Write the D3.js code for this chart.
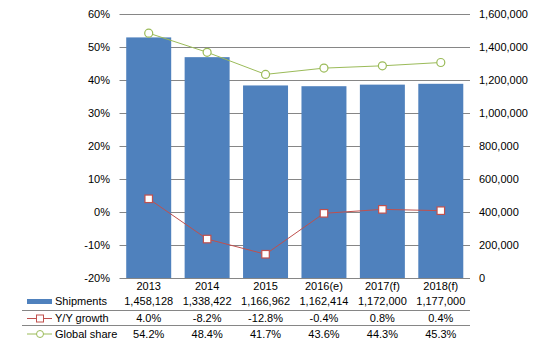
<!DOCTYPE html>
<html lang="en">
<head>
<meta charset="utf-8">
<script src="https://d3js.org/d3.v7.min.js"></script>
<style>
  body { margin: 0; background: #fff; }
  text { font-family: "Liberation Sans", Arial, sans-serif; font-size: 11px; fill: #000; }
</style>
</head>
<body>
<div id="chart"></div>
<script>
const years = ["2013", "2014", "2015", "2016(e)", "2017(f)", "2018(f)"];
const shipments = [1458128, 1338422, 1166962, 1162414, 1172000, 1177000];
const yoy = [4.0, -8.2, -12.8, -0.4, 0.8, 0.4];
const share = [54.2, 48.4, 41.7, 43.6, 44.3, 45.3];
const leftTicks = [-20, -10, 0, 10, 20, 30, 40, 50, 60];
const rightTicks = [0, 200000, 400000, 600000, 800000, 1000000, 1200000, 1400000, 1600000];

const width = 539, height = 350;
const plotLeft = 119.5, plotRight = 470, plotTop = 14, plotBottom = 278;

const svg = d3.select("#chart").append("svg")
    .attr("width", width)
    .attr("height", height);

const x = d3.scaleBand().domain(years).range([plotLeft, plotRight]).paddingInner(0.23).paddingOuter(0.115);
const xc = d => x(d) + x.bandwidth() / 2;
const yl = d3.scaleLinear().domain([-20, 60]).range([plotBottom, plotTop]);
const yr = d3.scaleLinear().domain([0, 1600000]).range([plotBottom, plotTop]);

// grid lines
svg.append("g").selectAll("line")
    .data(leftTicks)
    .enter().append("line")
    .attr("x1", plotLeft).attr("x2", plotRight)
    .attr("y1", d => yl(d) + 0.5).attr("y2", d => yl(d) + 0.5)
    .attr("stroke", "#868686");

// left axis labels
svg.append("g").selectAll("text")
    .data(leftTicks)
    .enter().append("text")
    .attr("x", 110).attr("y", d => yl(d))
    .attr("dy", "0.35em")
    .attr("text-anchor", "end")
    .text(d => d + "%");

// right axis labels
svg.append("g").selectAll("text")
    .data(rightTicks)
    .enter().append("text")
    .attr("x", 479).attr("y", d => yr(d))
    .attr("dy", "0.35em")
    .text(d => d3.format(",")(d));

// bars
svg.append("g").selectAll("rect")
    .data(shipments)
    .enter().append("rect")
    .attr("x", (d, i) => x(years[i]))
    .attr("y", d => yr(d))
    .attr("width", x.bandwidth())
    .attr("height", d => yr(0) - yr(d))
    .attr("fill", "#4F81BD");

// lines
const line = d3.line().x((d, i) => xc(years[i])).y(d => yl(d));
svg.append("path").datum(share)
    .attr("d", line).attr("fill", "none").attr("stroke", "#9BBB59").attr("stroke-width", 1);
svg.append("path").datum(yoy)
    .attr("d", line).attr("fill", "none").attr("stroke", "#C0504D").attr("stroke-width", 1);

svg.append("g").selectAll("circle")
    .data(share)
    .enter().append("circle")
    .attr("cx", (d, i) => xc(years[i])).attr("cy", d => yl(d))
    .attr("r", 4)
    .attr("fill", "#fff").attr("stroke", "#9BBB59").attr("stroke-width", 1.2);

svg.append("g").selectAll("rect")
    .data(yoy)
    .enter().append("rect")
    .attr("x", (d, i) => xc(years[i]) - 3.75).attr("y", d => yl(d) - 3.75)
    .attr("width", 7.5).attr("height", 7.5)
    .attr("fill", "#fff").attr("stroke", "#C0504D").attr("stroke-width", 1.2);

// data table
svg.append("g").selectAll("text")
    .data(years)
    .enter().append("text")
    .attr("x", d => xc(d)).attr("y", 286)
    .attr("dy", "0.35em").attr("text-anchor", "middle")
    .text(d => d);

const rows = [
    { name: "Shipments", vals: shipments.map(d3.format(",")), y: 301 },
    { name: "Y/Y growth", vals: yoy.map(d => d.toFixed(1) + "%"), y: 318.5 },
    { name: "Global share", vals: share.map(d => d.toFixed(1) + "%"), y: 334 }
];

rows.forEach(function (r) {
    svg.append("text").attr("x", 55).attr("y", r.y).attr("dy", "0.35em").text(r.name);
    svg.append("g").selectAll("text")
        .data(r.vals)
        .enter().append("text")
        .attr("x", (d, i) => xc(years[i])).attr("y", r.y)
        .attr("dy", "0.35em").attr("text-anchor", "middle")
        .text(d => d);
});

[310.5, 325.5].forEach(function (yy) {
    svg.append("line").attr("x1", 22).attr("x2", plotRight)
        .attr("y1", yy).attr("y2", yy).attr("stroke", "#868686");
});

// legend keys
svg.append("rect").attr("x", 27).attr("y", 299).attr("width", 25).attr("height", 5).attr("fill", "#4F81BD");
svg.append("line").attr("x1", 27).attr("x2", 52).attr("y1", 318.5).attr("y2", 318.5).attr("stroke", "#C0504D");
svg.append("rect").attr("x", 36.5).attr("y", 315).attr("width", 7).attr("height", 7)
    .attr("fill", "#fff").attr("stroke", "#C0504D");
svg.append("line").attr("x1", 27).attr("x2", 52).attr("y1", 334).attr("y2", 334).attr("stroke", "#9BBB59");
svg.append("circle").attr("cx", 40).attr("cy", 334).attr("r", 3.5)
    .attr("fill", "#fff").attr("stroke", "#9BBB59");
</script>
</body>
</html>
